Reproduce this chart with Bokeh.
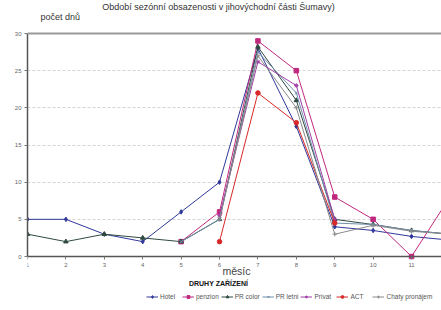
from bokeh.plotting import figure
from bokeh.models import Range1d, Span, Label, Legend, LegendItem, FixedTicker
from bokeh.embed import file_html
from bokeh.resources import INLINE
import numpy as np

months = [1, 2, 3, 4, 5, 6, 7, 8, 9, 10, 11, 12]
N = np.nan
hotel = [5, 5, 3, 2, 6, 10, 28, 17.5, 4, 3.5, 2.7, 2.2]
penzion = [N, N, N, N, 2, 6, 29, 25, 8, 5, 0, 8]
pr_color = [3, 2, 3, 2.5, 2, 5, 28.2, 21, 5, 4.3, 3.5, 3]
pr_letni = [N, N, N, N, 2, 5, 27.5, 22, 4.5, 4.3, 3.5, 3]
privat = [N, N, N, N, N, 5.5, 26.2, 23, 5, N, N, N]
act = [N, N, N, N, N, 2, 22, 18, 4.5, N, N, N]
chaty = [N, N, N, N, N, 5, 27, 20, 3, 4.2, 3.4, 3]

series = [
    ("Hotel", hotel, "#30389a", "diamond"),
    ("penzion", penzion, "#c0287e", "square"),
    ("PR color", pr_color, "#2f4a40", "triangle"),
    ("PR letni", pr_letni, "#6f8faa", "x"),
    ("Privat", privat, "#a040a8", "asterisk"),
    ("ACT", act, "#d82828", "circle"),
    ("Chaty pronájem", chaty, "#8a8a8a", "cross"),
]

FONT = "Liberation Sans"

# frame spans the full height; y=0 sits at 256 px, y=30 at 33 px
ppu = (256 - 33) / 30.0
y0 = -(310 - 256) / ppu
y1 = 30 + 33 / ppu

p = figure(width=441, height=310, output_backend="svg", toolbar_location=None,
           x_range=Range1d(1, 11.78), y_range=Range1d(y0, y1),
           min_border_left=27, min_border_right=0, min_border_top=0, min_border_bottom=0)
p.outline_line_color = None
p.background_fill_color = "white"

p.xgrid.grid_line_color = None
p.ygrid.grid_line_color = "#d4d4d4"
p.ygrid.grid_line_dash = "3 2"
p.ygrid.ticker = FixedTicker(ticks=[5, 10, 15, 20, 25])

p.yaxis.ticker = FixedTicker(ticks=[0, 5, 10, 15, 20, 25, 30])
p.yaxis.bounds = (0, 30)
p.xaxis.ticker = FixedTicker(ticks=months)
p.xaxis.fixed_location = 0
for ax in (p.xaxis[0], p.yaxis[0]):
    ax.axis_line_color = "#555555"
    ax.axis_line_width = 1.5
    ax.major_tick_line_color = "#777777"
    ax.major_tick_out = 3
    ax.major_tick_in = 0
    ax.minor_tick_line_color = None
    ax.major_label_text_font = FONT
    ax.major_label_text_font_size = "6px"
    ax.major_label_text_color = "#666666"
    ax.major_label_standoff = 3

top = Span(location=30, dimension="width", line_color="#999999", line_width=2)
p.add_layout(top)

items = []
for name, vals, col, mk in series:
    r1 = p.line(months, vals, line_color=col, line_width=1)
    r2 = p.scatter(months, vals, marker=mk, size=4.5, line_color=col, fill_color=col)
    items.append(LegendItem(label=name, renderers=[r1, r2]))

leg = Legend(items=items, location=(119, 10), orientation="horizontal",
             label_text_font=FONT, label_text_font_size="6.5px", label_text_color="#555555",
             glyph_width=12, glyph_height=7, label_standoff=2, spacing=2,
             padding=0, margin=0, label_height=8,
             background_fill_alpha=0, border_line_alpha=0)
p.add_layout(leg, "center")

# screen units are relative to the frame (x from left=27, y up from bottom=310)
p.add_layout(Label(x=191, y=304, x_units="screen", y_units="screen",
                   text="Období sezónní obsazenosti v jihovýchodní části Šumavy)",
                   text_font=FONT, text_font_size="9px", text_color="#333333",
                   text_align="center", text_baseline="alphabetic"))
p.add_layout(Label(x=13, y=294, x_units="screen", y_units="screen",
                   text="počet dnů", text_font=FONT, text_font_size="9px",
                   text_color="#333333", text_baseline="middle"))
p.add_layout(Label(x=195, y=40, x_units="screen", y_units="screen",
                   text="měsíc", text_font=FONT, text_font_size="10.5px",
                   text_color="#444444", text_baseline="middle"))
p.add_layout(Label(x=191, y=27, x_units="screen", y_units="screen",
                   text="DRUHY ZAŘÍZENÍ", text_font=FONT, text_font_size="7px",
                   text_font_style="bold", text_color="#111111",
                   text_align="center", text_baseline="middle"))

open("out.html", "w").write(file_html(p, INLINE))
